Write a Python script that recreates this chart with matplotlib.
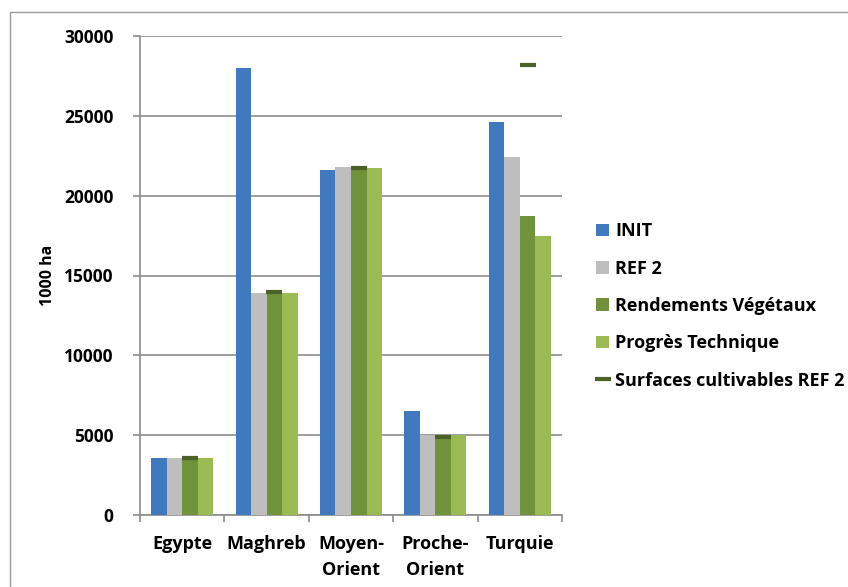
import matplotlib.pyplot as plt
import numpy as np
from matplotlib.patches import Rectangle

regions = ["Egypte", "Maghreb", "Moyen-\nOrient", "Proche-\nOrient", "Turquie"]
init = [3600, 28000, 21600, 6500, 24600]
ref2 = [3600, 13900, 21800, 5000, 22450]
rendements = [3600, 13900, 21750, 4950, 18750]
progres = [3600, 13900, 21750, 5000, 17500]
surfaces_ref2 = [3600, 13950, 21750, 4900, 28200]

series = [
    ("INIT", init, "#4079bd"),
    ("REF 2", ref2, "#bebebe"),
    ("Rendements Végétaux", rendements, "#70923a"),
    ("Progrès Technique", progres, "#9aba54"),
]

FONT = "Open Sans"

fig = plt.figure(figsize=(8.48, 5.87), dpi=100)
fig.patches.append(Rectangle((10 / 848, -0.1), 1.2, (587 - 12) / 587 + 0.1,
                             transform=fig.transFigure, fill=False,
                             edgecolor="#9a9a9a", linewidth=1.0))
ax = fig.add_axes([140 / 848, 1 - 515 / 587, 422 / 848, 479 / 587])

x = np.arange(len(regions))
w = 0.184
handles = []
for i, (name, vals, col) in enumerate(series):
    b = ax.bar(x + (i - 1.5) * w, vals, w, color=col, label=name, zorder=3)
    handles.append(b)

ln, = ax.plot(x + 0.5 * w, surfaces_ref2, linestyle="none", marker="_",
              markersize=12, markeredgewidth=3, color="#4a6127", zorder=4,
              label="Surfaces cultivables REF 2")
handles.append(ln)

ax.set_xlim(-0.5, len(regions) - 0.5)
ax.set_ylim(0, 30000)
ax.set_yticks(np.arange(0, 30001, 5000))
ax.yaxis.grid(True, color="#8c8c8c", linewidth=1.2, zorder=0)
for s in ["top", "right"]:
    ax.spines[s].set_visible(False)
for s in ["left", "bottom"]:
    ax.spines[s].set_color("#8c8c8c")
    ax.spines[s].set_linewidth(1.2)

ax.set_xticks(x)
ax.set_xticklabels(regions, fontfamily=FONT, fontweight="bold",
                   fontsize=13, linespacing=1.55, va="top")
ax.set_xticks(np.arange(-0.5, len(regions)), minor=True)
ax.tick_params(axis="x", which="major", length=0, pad=14.5)
ax.tick_params(axis="x", which="minor", length=5, color="#8c8c8c", width=1.2)
ax.tick_params(axis="y", length=5, color="#8c8c8c", width=1.2, pad=14)
for t in ax.get_yticklabels():
    t.set_fontfamily(FONT)
    t.set_fontweight("bold")
    t.set_fontsize(12.5)

ax.set_ylabel("1000 ha", fontfamily=FONT, fontweight="bold",
              fontsize=11.5, labelpad=6)

leg = fig.legend(handles=handles, loc="upper left",
                 bbox_to_anchor=(580 / 848, 1 - 206 / 587), frameon=False,
                 prop={"family": FONT, "weight": "bold", "size": 13},
                 handlelength=0.7, handleheight=0.7, handletextpad=0.35,
                 labelspacing=1.07)

fig.savefig("out.png", dpi=100)
